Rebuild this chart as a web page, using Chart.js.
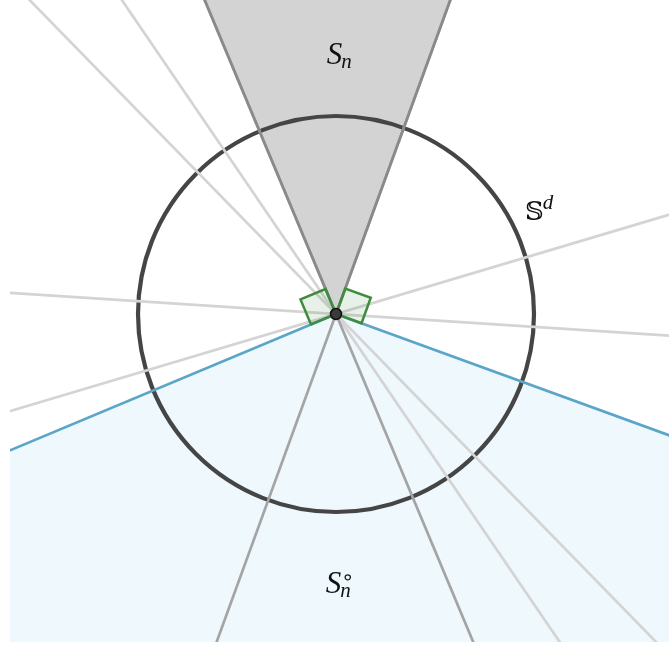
<!DOCTYPE html>
<html>
<head>
<meta charset="utf-8">
<script src="https://cdn.jsdelivr.net/npm/chart.js@4.4.1/dist/chart.umd.min.js"></script>
<style>
  html, body { margin: 0; padding: 0; background: #fff; }
  #wrap { width: 669px; height: 648px; }
</style>
</head>
<body>
<div id="wrap"><canvas id="fig"></canvas></div>
<script>
// directions in degrees, counter-clockwise from +x, all through the origin
const coneAngles = [70.0, 112.7];               // edges of S_n
const rayAngles = [16.6, 124.3, 134.3, 176.3];  // other lines through the origin
const sphereRadius = 1;
// polar cone edges are perpendicular to the cone edges
const polarAngles = [coneAngles[0] - 90, coneAngles[1] + 90];

// text labels: [main, sub, sup, x, y]
const labelText = [
  ['S', 'n', '', -0.047, 1.263],
  ['\u{1D54A}', '', 'd', 0.955, 0.475],
  ['S', 'n', '\u2218', -0.052, -1.409]
];

const FAR = 6;
const rad = a => a * Math.PI / 180;
const dir = a => [Math.cos(rad(a)), Math.sin(rad(a))];
function fullLine(a) {
  const [c, s] = dir(a);
  return [{x: -FAR * c, y: -FAR * s}, {x: FAR * c, y: FAR * s}];
}
function halfLine(a) {
  const [c, s] = dir(a);
  return [{x: 0, y: 0}, {x: FAR * c, y: FAR * s}];
}
function lineSet(data, color, order) {
  return {data, showLine: true, borderColor: color, borderWidth: 2.7,
          pointRadius: 0, order, fill: false};
}

const datasets = [];
rayAngles.forEach(a => datasets.push(lineSet(fullLine(a), '#d4d4d4', 5)));
coneAngles.forEach(a => datasets.push(lineSet(fullLine(a), '#a4a4a4', 4)));
coneAngles.forEach(a => datasets.push(lineSet(halfLine(a), '#8a8a8a', 3)));
polarAngles.forEach(a => datasets.push(lineSet(halfLine(a), '#5aa5c8', 2)));

function poly(ctx, sx, sy, pts) {
  ctx.beginPath();
  pts.forEach((p, i) => {
    const px = sx.getPixelForValue(p[0]), py = sy.getPixelForValue(p[1]);
    if (i === 0) ctx.moveTo(px, py); else ctx.lineTo(px, py);
  });
  ctx.closePath();
}
function sector(a0, a1) {
  const m = (a0 + a1) / 2;
  return [[0, 0], dir(a0).map(v => v * FAR), dir(m).map(v => v * FAR * 2), dir(a1).map(v => v * FAR)];
}

const geometry = {
  id: 'geometry',
  beforeDatasetsDraw(chart) {
    const {ctx, chartArea: a, scales: {x, y}} = chart;
    ctx.save();
    ctx.beginPath();
    ctx.rect(a.left, a.top, a.right - a.left, a.bottom - a.top);
    ctx.clip();
    // polar cone
    poly(ctx, x, y, sector(polarAngles[1], polarAngles[0] + 360));
    ctx.fillStyle = '#eff8fd';
    ctx.fill();
    // cone S_n
    poly(ctx, x, y, sector(coneAngles[0], coneAngles[1]));
    ctx.fillStyle = '#d3d3d3';
    ctx.fill();
    // sphere
    const cx = x.getPixelForValue(0), cy = y.getPixelForValue(0);
    const r = x.getPixelForValue(sphereRadius) - cx;
    ctx.beginPath();
    ctx.arc(cx, cy, r, 0, Math.PI * 2);
    ctx.strokeStyle = '#454545';
    ctx.lineWidth = 4.2;
    ctx.stroke();
    ctx.restore();
  },
  afterDatasetsDraw(chart) {
    const {ctx, scales: {x, y}} = chart;
    ctx.save();
    // right-angle marks between each cone edge and its polar edge
    const s = 0.137;
    [[coneAngles[0], polarAngles[0]], [coneAngles[1], polarAngles[1]]].forEach(([a, b]) => {
      const u = dir(a), v = dir(b);
      poly(ctx, x, y, [[0, 0], [s * u[0], s * u[1]],
        [s * (u[0] + v[0]), s * (u[1] + v[1])], [s * v[0], s * v[1]]]);
      ctx.fillStyle = 'rgba(70,150,70,0.13)';
      ctx.fill();
      ctx.strokeStyle = '#3f8c3f';
      ctx.lineWidth = 2.5;
      ctx.lineJoin = 'miter';
      ctx.stroke();
    });
    // apex
    ctx.beginPath();
    ctx.arc(x.getPixelForValue(0), y.getPixelForValue(0), 5.5, 0, Math.PI * 2);
    ctx.fillStyle = '#3a3a3a';
    ctx.fill();
    ctx.lineWidth = 1.5;
    ctx.strokeStyle = '#111';
    ctx.stroke();
    // labels
    ctx.fillStyle = '#111';
    ctx.textBaseline = 'alphabetic';
    ctx.textAlign = 'left';
    labelText.forEach(([main, sub, sup, lx, ly]) => {
      const px = x.getPixelForValue(lx), py = y.getPixelForValue(ly);
      ctx.font = main === 'S' ? 'italic 31px "Liberation Serif"' : '26px "DejaVu Serif"';
      ctx.fillText(main, px, py);
      const w = ctx.measureText(main).width;
      if (sub) {
        ctx.font = 'italic 21px "Liberation Serif"';
        ctx.fillText(sub, px + w - 1, py + 4);
      }
      if (sup) {
        ctx.font = sup === 'd' ? 'italic 21px "Liberation Serif"' : '21px "DejaVu Sans"';
        ctx.fillText(sup, px + w + (sup === 'd' ? -1 : 0), py - (sup === 'd' ? 11 : 9));
      }
    });
    ctx.restore();
  }
};

new Chart(document.getElementById('fig'), {
  type: 'scatter',
  data: {datasets},
  options: {
    responsive: true,
    maintainAspectRatio: false,
    animation: false,
    layout: {padding: {left: 10, right: 0, top: 0, bottom: 6}},
    plugins: {legend: {display: false}, tooltip: {enabled: false}},
    scales: {
      x: {type: 'linear', min: -1.6465, max: 1.6818, display: false},
      y: {type: 'linear', min: -1.6566, max: 1.5859, display: false}
    }
  },
  plugins: [geometry]
});
</script>
</body>
</html>
